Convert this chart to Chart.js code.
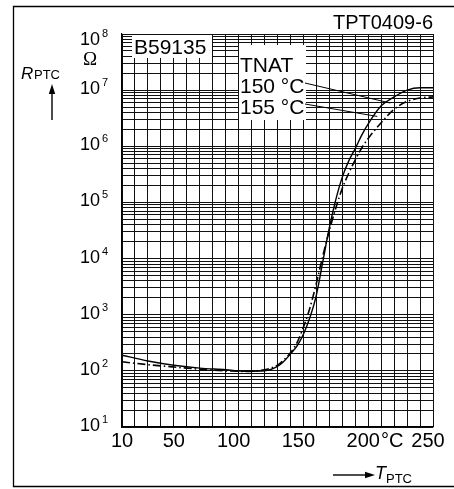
<!DOCTYPE html>
<html>
<head>
<meta charset="utf-8">
<script src="https://cdn.jsdelivr.net/npm/chart.js@4.4.1/dist/chart.umd.min.js"></script>
<style>
    html, body { margin: 0; padding: 0; background: #fff; }
    .chart-box { position: relative; width: 454px; height: 489px; }
</style>
</head>
<body>
<div class="chart-box"><canvas id="ptcChart"></canvas></div>
<script>
// temperature in degC, resistance in ohm
const temps = [10, 30, 50, 70, 90, 105, 120, 130, 135, 140, 145, 150, 155, 160, 165, 170, 175, 180, 185, 190, 195, 200, 210, 220, 230, 240, 250];
const rTnat150 = [190, 150, 126, 112, 105, 98, 100, 120, 148, 200, 275, 450, 890, 2240, 8900, 35500, 112000, 282000, 550000, 912000, 1580000, 2510000, 5250000, 7590000, 10000000, 11000000, 11000000];
const rTnat155 = [145, 129, 117, 107, 100, 98, 105, 126, 158, 210, 316, 600, 1320, 3630, 11200, 31600, 79400, 178000, 331000, 575000, 933000, 1380000, 2630000, 4570000, 6310000, 7240000, 7590000];

const seriesLabels = ['150 °C', '155 °C'];
const xTickValues = [10, 50, 100, 150, 200, 250];
const xTickLabels = ['10', '50', '100', '150', '200', '250'];
const yDecades = [1, 2, 3, 4, 5, 6, 7, 8];

// where the leader lines from the legend box touch the curves (data units)
const leaderEnds = [{ x: 217, y: 5900000 }, { x: 207, y: 3400000 }];

const SANS = '"Liberation Sans", Arial, sans-serif';

function buildLogTicks() {
    const ticks = [];
    yDecades.slice(0, -1).forEach((e) => {
        for (let m = 1; m <= 9; m++) {
            ticks.push({ value: m * Math.pow(10, e) });
        }
    });
    ticks.push({ value: Math.pow(10, yDecades[yDecades.length - 1]) });
    return ticks;
}

function drawArrow(ctx, x1, y1, x2, y2) {
    const ang = Math.atan2(y2 - y1, x2 - x1);
    const len = 10;
    const half = 3.2;
    ctx.beginPath();
    ctx.moveTo(x1, y1);
    ctx.lineTo(x2 - Math.cos(ang) * len, y2 - Math.sin(ang) * len);
    ctx.stroke();
    ctx.beginPath();
    ctx.moveTo(x2, y2);
    ctx.lineTo(x2 - Math.cos(ang) * len - Math.sin(ang) * half, y2 - Math.sin(ang) * len + Math.cos(ang) * half);
    ctx.lineTo(x2 - Math.cos(ang) * len + Math.sin(ang) * half, y2 - Math.sin(ang) * len - Math.cos(ang) * half);
    ctx.closePath();
    ctx.fill();
}

const labelsPlugin = {
    id: 'ptcLabels',
    afterDraw(chart) {
        const { ctx, chartArea: area, scales } = chart;
        const x = scales.x;
        const y = scales.y;

        ctx.save();
        ctx.fillStyle = '#000';
        ctx.strokeStyle = '#000';

        // outer frame (right side runs off the picture)
        ctx.lineWidth = 1.3;
        ctx.beginPath();
        ctx.moveTo(470, 6.5);
        ctx.lineTo(13.5, 6.5);
        ctx.lineTo(13.5, 486.5);
        ctx.lineTo(470, 486.5);
        ctx.stroke();

        // y decade labels
        yDecades.forEach((e) => {
            const py = Math.max(y.getPixelForValue(Math.pow(10, e)), area.top + 7) - 1;
            ctx.font = '18px ' + SANS;
            ctx.textAlign = 'right';
            ctx.textBaseline = 'middle';
            ctx.fillText('10', area.left - 22, py);
            ctx.font = '11px ' + SANS;
            ctx.textAlign = 'left';
            ctx.fillText(String(e), area.left - 20, py - 6);
        });

        ctx.font = '19px "Liberation Serif", "Times New Roman", serif';
        ctx.textAlign = 'center';
        ctx.textBaseline = 'middle';
        ctx.fillText('Ω', area.left - 32, area.top + 26);

        // x tick labels
        ctx.font = '20px ' + SANS;
        ctx.textBaseline = 'alphabetic';
        xTickValues.forEach((v, i) => {
            const label = xTickLabels[i];
            const px = x.getPixelForValue(v) - (label.length > 2 ? 5 : 0);
            ctx.textAlign = 'center';
            ctx.fillText(label, px, area.bottom + 20);
            if (v === 200) {
                const w = ctx.measureText(label).width;
                ctx.textAlign = 'left';
                ctx.fillText('°C', px + w / 2 + 1, area.bottom + 20);
            }
        });

        // axis titles
        ctx.textAlign = 'left';
        ctx.font = 'italic 17px ' + SANS;
        ctx.fillText('R', 21, 79);
        ctx.font = '13px ' + SANS;
        ctx.fillText('PTC', 34, 79);
        ctx.lineWidth = 1.4;
        drawArrow(ctx, 52, 120, 52, 84);

        ctx.font = 'italic 18px ' + SANS;
        ctx.fillText('T', 375, 479);
        ctx.font = '13px ' + SANS;
        ctx.fillText('PTC', 386, 483);
        drawArrow(ctx, 333, 475, 375, 475);

        ctx.font = '20px ' + SANS;
        ctx.textAlign = 'right';
        ctx.fillText('TPT0409-6', area.right, 29);

        // type box
        ctx.fillStyle = '#fff';
        ctx.fillRect(area.left + 10, area.top + 1, 80, 23);
        ctx.fillStyle = '#000';
        ctx.textAlign = 'left';
        ctx.font = '21px ' + SANS;
        ctx.fillText('B59135', area.left + 12, area.top + 20);

        // legend box with leader lines
        const bx = area.left + 117;
        const by = area.top + 11;
        ctx.fillStyle = '#fff';
        ctx.fillRect(bx, by, 67, 75);
        ctx.fillStyle = '#000';
        ctx.fillText('TNAT', bx + 1, by + 27);
        seriesLabels.forEach((txt, i) => {
            const base = by + 48 + i * 21;
            ctx.fillText(txt, bx + 1, base);
            const end = leaderEnds[i];
            ctx.lineWidth = 1;
            ctx.beginPath();
            ctx.moveTo(bx + 66, base - 10);
            ctx.lineTo(x.getPixelForValue(end.x), y.getPixelForValue(end.y));
            ctx.stroke();
        });

        ctx.restore();
    },
};

new Chart(document.getElementById('ptcChart'), {
    type: 'line',
    data: {
        datasets: [
            {
                label: seriesLabels[0],
                data: temps.map((t, i) => ({ x: t, y: rTnat150[i] })),
                borderColor: '#000',
                borderWidth: 1.4,
                pointRadius: 0,
                cubicInterpolationMode: 'monotone',
            },
            {
                label: seriesLabels[1],
                data: temps.map((t, i) => ({ x: t, y: rTnat155[i] })),
                borderColor: '#000',
                borderWidth: 1.6,
                borderDash: [8, 3, 1.5, 3],
                pointRadius: 0,
                cubicInterpolationMode: 'monotone',
            },
        ],
    },
    options: {
        responsive: true,
        maintainAspectRatio: false,
        animation: false,
        devicePixelRatio: 1,
        layout: {
            padding: { left: 122, top: 34, right: 21, bottom: 62 },
        },
        plugins: {
            legend: { display: false },
            tooltip: { enabled: false },
        },
        scales: {
            x: {
                type: 'linear',
                min: 10,
                max: 250,
                ticks: { display: false, stepSize: 10 },
                grid: { color: '#111', lineWidth: 1, drawTicks: false },
                border: { color: '#000', width: 1.2 },
            },
            y: {
                type: 'logarithmic',
                min: 10,
                max: 1e8,
                afterBuildTicks(scale) {
                    scale.ticks = buildLogTicks();
                },
                ticks: { display: false },
                grid: { color: '#111', lineWidth: 1, drawTicks: false },
                border: { color: '#000', width: 1.2 },
            },
        },
    },
    plugins: [labelsPlugin],
});
</script>
</body>
</html>
